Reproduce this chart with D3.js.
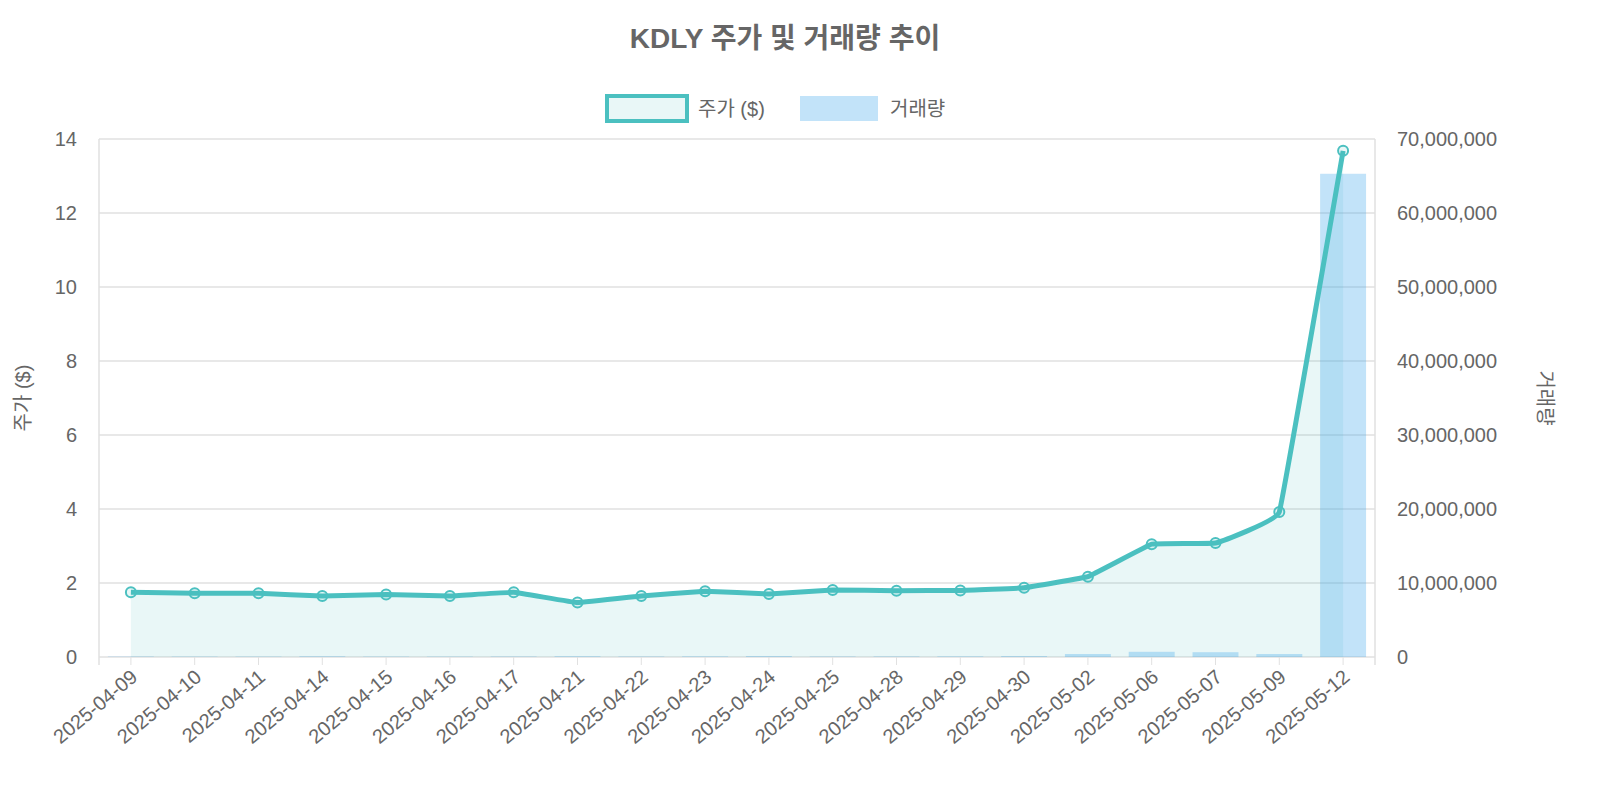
<!DOCTYPE html>
<html><head><meta charset="utf-8">
<script src="https://cdn.jsdelivr.net/npm/d3@7"></script>
<style>body{margin:0;background:#fff}text{font-family:"Liberation Sans","Noto Sans CJK KR",sans-serif;fill:#666}</style>
</head><body><svg id="c" width="1600" height="800"></svg>
<script>
const dates = ["2025-04-09","2025-04-10","2025-04-11","2025-04-14","2025-04-15","2025-04-16","2025-04-17","2025-04-21","2025-04-22","2025-04-23","2025-04-24","2025-04-25","2025-04-28","2025-04-29","2025-04-30","2025-05-02","2025-05-06","2025-05-07","2025-05-09","2025-05-12"];
const prices = [1.75,1.72,1.72,1.65,1.69,1.65,1.75,1.47,1.65,1.78,1.70,1.81,1.79,1.80,1.87,2.17,3.05,3.08,3.92,13.68];
const volumes = [60000,50000,50000,90000,50000,50000,60000,100000,60000,80000,120000,60000,70000,80000,120000,400000,700000,650000,400000,65300000];
const priceTicks = [0,2,4,6,8,10,12,14];
const volTicks = [0,10e6,20e6,30e6,40e6,50e6,60e6,70e6];

const svg = d3.select("#c");
const L = 99, R = 1375, T = 139, B = 657;
const x = d3.scaleBand().domain(dates).range([L, R]);
const y = d3.scaleLinear().domain([0, 14]).range([B, T]);
const y2 = d3.scaleLinear().domain([0, 70e6]).range([B, T]);
const cx = d => x(d) + x.bandwidth() / 2;
const curve = d3.curveCardinal.tension(0.85);

// grid
svg.append("g").selectAll("line").data(priceTicks).join("line")
  .attr("x1", L).attr("x2", R).attr("y1", d => y(d)).attr("y2", d => y(d))
  .attr("stroke", "#e1e1e1").attr("stroke-width", 1.5);
svg.append("g").selectAll("line").data(dates).join("line")
  .attr("x1", d => cx(d)).attr("x2", d => cx(d)).attr("y1", B).attr("y2", B + 8)
  .attr("stroke", "#e1e1e1");
svg.append("line").attr("x1", L).attr("x2", L).attr("y1", T).attr("y2", B + 8).attr("stroke", "#e1e1e1").attr("stroke-width", 1.5);
svg.append("line").attr("x1", R).attr("x2", R).attr("y1", T).attr("y2", B + 8).attr("stroke", "#e1e1e1").attr("stroke-width", 1.5);

// area
svg.append("path").datum(prices)
  .attr("d", d3.area().x((d, i) => cx(dates[i])).y0(B).y1(d => y(d)).curve(curve))
  .attr("fill", "rgba(75,192,192,0.12)");

// bars
const bw = x.bandwidth() * 0.72;
svg.append("g").selectAll("rect").data(volumes).join("rect")
  .attr("x", (d, i) => cx(dates[i]) - bw / 2).attr("width", bw)
  .attr("y", d => y2(d)).attr("height", d => B - y2(d))
  .attr("fill", "rgba(54,162,235,0.3)");

// line
svg.append("path").datum(prices)
  .attr("d", d3.line().x((d, i) => cx(dates[i])).y(d => y(d)).curve(curve))
  .attr("fill", "none").attr("stroke", "#4bc0c0").attr("stroke-width", 5);
svg.append("g").selectAll("circle").data(prices).join("circle")
  .attr("cx", (d, i) => cx(dates[i])).attr("cy", d => y(d)).attr("r", 5)
  .attr("fill", "rgba(75,192,192,0.12)").attr("stroke", "#4bc0c0").attr("stroke-width", 2);

// axes labels
svg.append("g").selectAll("text").data(priceTicks).join("text")
  .attr("x", L - 22).attr("y", d => y(d) + 7).attr("text-anchor", "end")
  .attr("font-size", 20).text(d => d);
const fmt = d3.format(",");
svg.append("g").selectAll("text").data(volTicks).join("text")
  .attr("x", R + 22).attr("y", d => y2(d) + 7).attr("font-size", 20).text(d => fmt(d));
svg.append("g").selectAll("text").data(dates).join("text")
  .attr("transform", d => `translate(${cx(d) + 8},${B + 22}) rotate(-40)`)
  .attr("text-anchor", "end").attr("font-size", 20).text(d => d);

svg.append("text").attr("transform", `translate(30,${(T + B) / 2}) rotate(-90)`)
  .attr("text-anchor", "middle").attr("font-size", 20).text("주가 ($)");
svg.append("text").attr("transform", `translate(1538,${(T + B) / 2}) rotate(90)`)
  .attr("text-anchor", "middle").attr("font-size", 20).text("거래량");

// title
svg.append("text").attr("x", 785).attr("y", 48).attr("text-anchor", "middle")
  .attr("font-size", 28).attr("font-weight", "bold").text("KDLY 주가 및 거래량 추이");

// legend
svg.append("rect").attr("x", 607).attr("y", 96).attr("width", 80).attr("height", 25)
  .attr("fill", "rgba(75,192,192,0.12)").attr("stroke", "#4bc0c0").attr("stroke-width", 4);
svg.append("text").attr("x", 698).attr("y", 116).attr("font-size", 20).text("주가 ($)");
svg.append("rect").attr("x", 800).attr("y", 96).attr("width", 78).attr("height", 25)
  .attr("fill", "rgba(54,162,235,0.3)");
svg.append("text").attr("x", 890).attr("y", 116).attr("font-size", 20).text("거래량");
</script></body></html>
